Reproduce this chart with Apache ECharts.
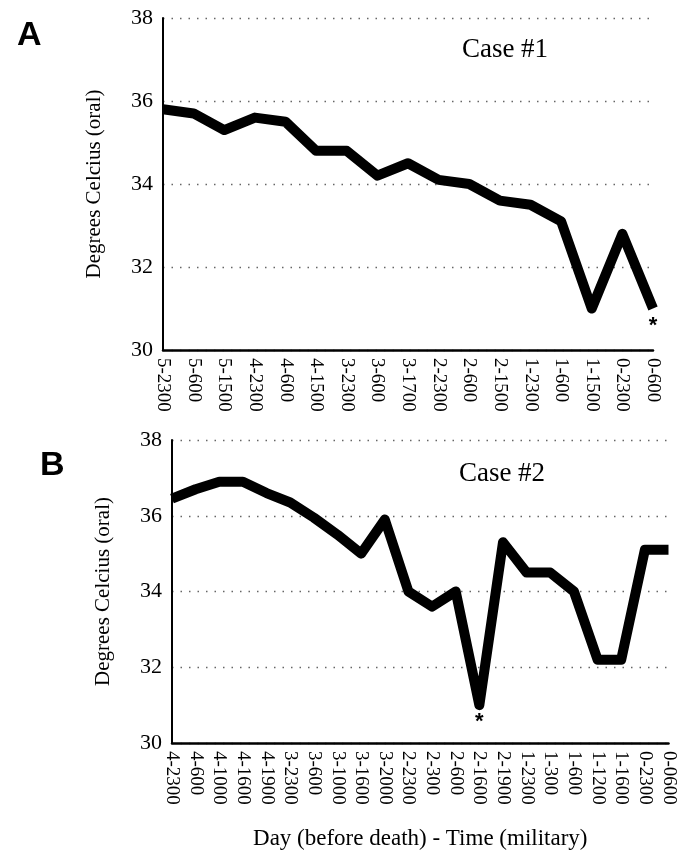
<!DOCTYPE html>
<html>
<head>
<meta charset="utf-8">
<script src="https://cdn.jsdelivr.net/npm/echarts@6/dist/echarts.min.js"></script>
<style>
html,body{margin:0;padding:0;background:#fff;}
#chart{width:678px;height:851px;}
</style>
</head>
<body>
<div id="chart"></div>
<script>
// Case #1 (panel A)
var catsA = ['5-2300','5-600','5-1500','4-2300','4-600','4-1500','3-2300','3-600','3-1700','2-2300','2-600','2-1500','1-2300','1-600','1-1500','0-2300','0-600'];
var tempA = [35.8, 35.7, 35.3, 35.6, 35.5, 34.8, 34.8, 34.2, 34.5, 34.1, 34.0, 33.6, 33.5, 33.1, 31.0, 32.8, 31.0];
var starIdxA = 16;

// Case #2 (panel B)
var catsB = ['4-2300','4-600','4-1000','4-1600','4-1900','3-2300','3-600','3-1000','3-1600','3-2000','2-2300','2-300','2-600','2-1600','2-1900','1-2300','1-300','1-600','1-1200','1-1600','0-2300','0-0600'];
var tempB = [36.45, 36.7, 36.9, 36.9, 36.6, 36.35, 35.95, 35.5, 35.0, 35.9, 34.0, 33.6, 34.0, 31.0, 35.3, 34.5, 34.5, 34.0, 32.2, 32.2, 35.1, 35.1];
var starIdxB = 13;

var yMin = 30, yMax = 38, yStep = 2;

var serif = '"Liberation Serif", "DejaVu Serif", serif';
var sans = '"Liberation Sans", Arial, sans-serif';

function xAxisCfg(gridIndex, cats, withName) {
  var a = {
    type: 'category', gridIndex: gridIndex, data: cats, boundaryGap: false,
    axisLine: {show: true, lineStyle: {color: '#000', width: 2.5}},
    axisTick: {show: false},
    axisLabel: {rotate: -90, interval: 0, margin: 8, color: '#000', fontFamily: serif, fontSize: 19},
    splitLine: {show: false}
  };
  if (withName) {
    a.name = 'Day (before death) - Time (military)';
    a.nameLocation = 'middle';
    a.nameGap = 84;
    a.nameTextStyle = {color: '#000', fontFamily: serif, fontSize: 23};
  }
  return a;
}
function yAxisCfg(gridIndex) {
  return {
    type: 'value', gridIndex: gridIndex, min: yMin, max: yMax, interval: yStep,
    name: 'Degrees Celcius (oral)', nameLocation: 'middle', nameGap: 58,
    nameTextStyle: {color: '#000', fontFamily: serif, fontSize: 21},
    axisLine: {show: true, lineStyle: {color: '#000', width: 2}},
    axisTick: {show: false},
    axisLabel: {margin: 10, color: '#000', fontFamily: serif, fontSize: 22},
    splitLine: {show: true, lineStyle: {color: '#666', type: [1.5, 7], width: 1.3}}
  };
}
function lineSeries(idx, data, starIdx) {
  return {
    type: 'line', xAxisIndex: idx, yAxisIndex: idx, data: data,
    showSymbol: false, symbol: 'none', silent: true, animation: false,
    lineStyle: {color: '#000', width: 10, join: 'round', cap: 'butt'},
    markPoint: {
      symbol: 'circle', symbolSize: 1, silent: true, animation: false,
      itemStyle: {color: 'rgba(0,0,0,0)'},
      label: {show: true, formatter: '*', position: 'inside', offset: [0, 17], color: '#000',
              fontFamily: sans, fontWeight: 'bold', fontSize: 22},
      data: [{coord: [starIdx, data[starIdx]]}]
    }
  };
}

var chart = echarts.init(document.getElementById('chart'), null, {renderer: 'canvas'});
chart.setOption({
  backgroundColor: '#fff',
  animation: false,
  title: [
    {text: 'A', left: 12, top: 14, textStyle: {fontFamily: sans, fontWeight: 'bold', fontSize: 34, color: '#000'}},
    {text: 'B', left: 35, top: 444, textStyle: {fontFamily: sans, fontWeight: 'bold', fontSize: 34, color: '#000'}},
    {text: 'Case #1', left: 500, top: 31, textAlign: 'center', textStyle: {fontFamily: serif, fontWeight: 'normal', fontSize: 27, color: '#000'}},
    {text: 'Case #2', left: 497, top: 455, textAlign: 'center', textStyle: {fontFamily: serif, fontWeight: 'normal', fontSize: 27, color: '#000'}}
  ],
  grid: [
    {left: 163, right: 25, top: 18, bottom: 501},
    {left: 172, right: 8, top: 440, bottom: 104}
  ],
  xAxis: [xAxisCfg(0, catsA, false), xAxisCfg(1, catsB, true)],
  yAxis: [yAxisCfg(0), yAxisCfg(1)],
  series: [lineSeries(0, tempA, starIdxA), lineSeries(1, tempB, starIdxB)]
});
</script>
</body>
</html>
